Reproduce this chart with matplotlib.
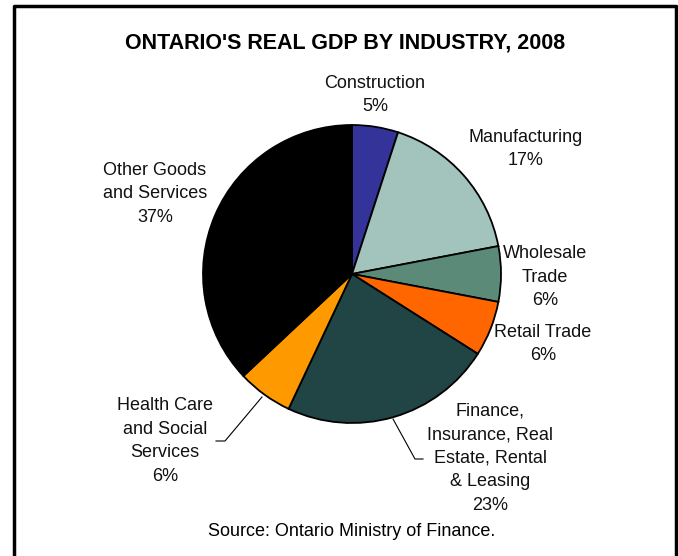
import matplotlib.pyplot as plt
from matplotlib.lines import Line2D

plt.rcParams['font.family'] = ['Liberation Sans', 'DejaVu Sans']

# Datos
industrias = ['Construction', 'Manufacturing', 'Wholesale\nTrade', 'Retail Trade',
              'Finance,\nInsurance, Real\nEstate, Rental\n& Leasing',
              'Health Care\nand Social\nServices', 'Other Goods\nand Services']
porcentajes = [5, 17, 6, 6, 23, 6, 37]
colores = ['#333399', '#A2C4BC', '#5B8A78', '#FF6600', '#214444', '#FF9900', '#000000']

# posiciones de etiquetas en pixeles (x, y desde arriba)
pos_etiquetas = [(375, 95), (526, 149), (545, 277), (543, 344),
                 (490, 458), (165, 441), (155, 194)]

W, H = 678, 556
fig = plt.figure(figsize=(W / 100, H / 100), dpi=100)
ax = fig.add_axes([0, 0, 1, 1])

ax.pie(porcentajes, colors=colores, startangle=90, counterclock=False,
       center=(352, H - 274), radius=149,
       wedgeprops=dict(edgecolor='black', linewidth=1.3))

for nombre, p, (x, y) in zip(industrias, porcentajes, pos_etiquetas):
    ax.text(x, H - y, f'{nombre}\n{p}%', ha='center', va='center',
            fontsize=13, linespacing=1.5, color='#111111')

# lineas guia
ax.plot([262, 225, 216], [H - 397, H - 441, H - 441], color='black', lw=0.8)
ax.plot([393, 415, 423], [H - 419, H - 459, H - 459], color='black', lw=0.8)

ax.text(345, H - 43, "ONTARIO'S REAL GDP BY INDUSTRY, 2008", ha='center', va='center',
        fontsize=15.5, fontweight='bold')
ax.text(352, H - 531, 'Source: Ontario Ministry of Finance.', ha='center', va='center',
        fontsize=13)

# marco
ax.add_line(Line2D([14, 14, 676, 676], [0, H - 6, H - 6, 0], color='black', lw=2.5))

ax.set_xlim(0, W)
ax.set_ylim(0, H)
ax.axis('off')

fig.savefig('out.png', dpi=100)
